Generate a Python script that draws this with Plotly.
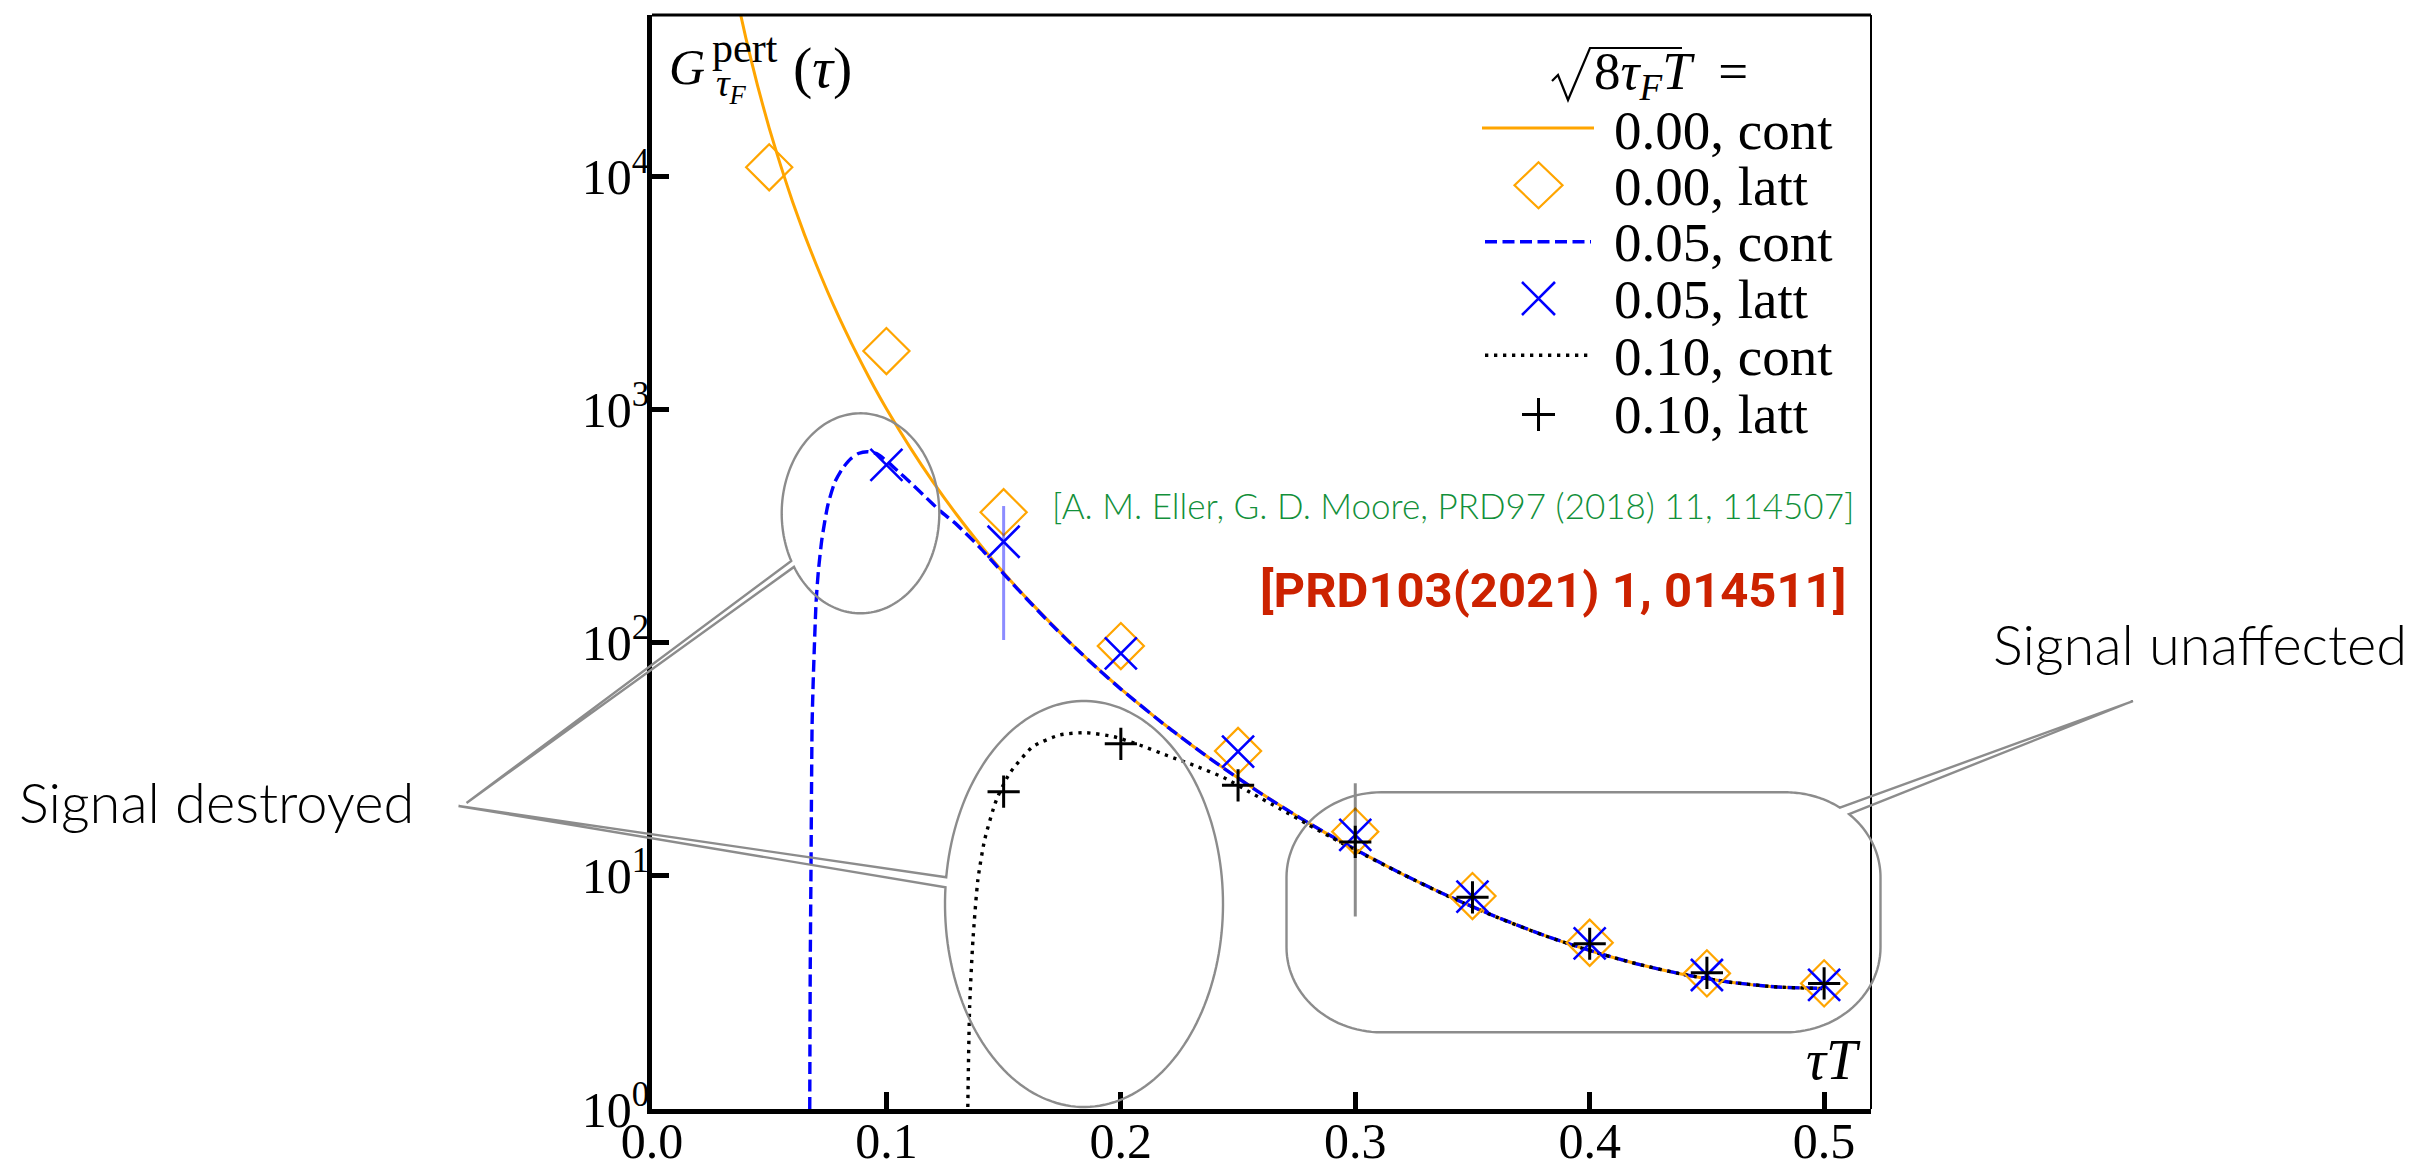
import math
import plotly.graph_objects as go

# ---------------- data ----------------
tau_latt_000 = [0.05, 0.10, 0.15, 0.20, 0.25, 0.30, 0.35, 0.40, 0.45, 0.50]
G_latt_000 = [11000, 1790, 364, 97.0, 34.4, 15.5, 8.20, 5.17, 3.82, 3.46]

tau_latt_005 = [0.10, 0.15, 0.20, 0.25, 0.30, 0.35, 0.40, 0.45, 0.50]
G_latt_005 = [581, 272, 90.3, 34.2, 15.0, 8.15, 5.14, 3.76, 3.41]
G_latt_005_errp = [0, 115, 0, 0, 0, 0, 0, 0, 0]
G_latt_005_errm = [0, 169, 0, 0, 0, 0, 0, 0, 0]

tau_latt_010 = [0.15, 0.20, 0.25, 0.30, 0.35, 0.40, 0.45, 0.50]
G_latt_010 = [23.0, 36.9, 24.5, 14.0, 8.10, 5.12, 3.84, 3.46]
G_latt_010_errp = [0, 0, 0, 11.0, 0, 0, 0, 0]
G_latt_010_errm = [0, 0, 0, 7.3, 0, 0, 0, 0]

tau_cont_000 = [0.036, 0.040, 0.045, 0.050, 0.055, 0.060, 0.065, 0.070, 0.075, 0.080,
                0.085, 0.090, 0.095, 0.100, 0.110, 0.120, 0.130, 0.140, 0.150, 0.160,
                0.170, 0.180, 0.190, 0.200, 0.220, 0.240, 0.260, 0.280, 0.300, 0.320,
                0.340, 0.360, 0.380, 0.400, 0.420, 0.440, 0.460, 0.480, 0.500]
G_cont_000 = [60000, 39600, 24700, 16200, 11100, 7810, 5670, 4220, 3200, 2470,
              1940, 1545, 1243, 1013, 693, 489, 355, 264, 200, 155,
              122, 96.8, 78.0, 63.6, 43.6, 30.9, 22.6, 16.9, 13.0, 10.2,
              8.17, 6.69, 5.59, 4.79, 4.20, 3.78, 3.50, 3.34, 3.29]

tau_cont_005 = [0.0672, 0.0675, 0.0678, 0.0683, 0.0688, 0.0700, 0.0710, 0.0725, 0.0750, 0.0780,
                0.0815, 0.0850, 0.0880, 0.0920, 0.0960, 0.1000, 0.1050, 0.1110, 0.1170, 0.1230,
                0.1300, 0.1400, 0.1500, 0.1600, 0.1700, 0.1800, 0.1900, 0.2000, 0.2200, 0.2400,
                0.2600, 0.2800, 0.3000, 0.3200, 0.3400, 0.3600, 0.3800, 0.4000, 0.4200, 0.4400,
                0.4600, 0.4800, 0.5000]
G_cont_005 = [0.5, 4.0, 10.0, 45.0, 70.0, 150, 205, 280, 390, 490,
              565, 620, 650, 662, 648, 605, 545, 480, 420, 368,
              322, 256, 198, 154, 121, 96.5, 77.8, 63.4, 43.5, 30.9,
              22.5, 16.9, 13.0, 10.2, 8.17, 6.69, 5.59, 4.79, 4.20, 3.78,
              3.50, 3.34, 3.29]

tau_cont_010 = [0.1344, 0.1348, 0.1355, 0.1369, 0.1390, 0.1419, 0.1469, 0.1526, 0.1625, 0.1740,
                0.1850, 0.1970, 0.2080, 0.2200, 0.2310, 0.2440, 0.2560, 0.2680, 0.2800, 0.2900,
                0.3000, 0.3200, 0.3400, 0.3600, 0.3800, 0.4000, 0.4200, 0.4400, 0.4600, 0.4800,
                0.5000]
G_cont_010 = [0.5, 1.17, 2.75, 5.3, 9.6, 14.3, 21.2, 27.6, 35.9, 40.3,
              41.2, 39.6, 36.5, 32.8, 29.9, 26.4, 22.6, 19.4, 16.6, 14.6,
              12.9, 10.2, 8.15, 6.68, 5.58, 4.78, 4.20, 3.78, 3.50, 3.34,
              3.29]

x_tickvals = [0.0, 0.1, 0.2, 0.3, 0.4, 0.5]
x_ticktext = ["0.0", "0.1", "0.2", "0.3", "0.4", "0.5"]
y_tickvals = [1, 10, 100, 1000, 10000]
y_ticktext = ["10<sup>0</sup>", "10<sup>1</sup>", "10<sup>2</sup>", "10<sup>3</sup>", "10<sup>4</sup>"]

legend_labels = ["0.00, cont", "0.00, latt", "0.05, cont", "0.05, latt", "0.10, cont", "0.10, latt"]

# ---------------- layout geometry ----------------
W, H = 2413, 1160
ML, MR, MT, MB = 652, 542, 15, 51
PW, PH = W - ML - MR, H - MT - MB

SERIF = "Liberation Serif"
LIGHT = "Lato"
BOLD = "Roboto"
ORANGE = "#FFA500"
BLUE = "#0000FF"
GRAY = "#8c8c8c"


def px(x):
    return (x - ML) / PW


def py(y):
    return (H - MB - y) / PH


def path_from_pts(pts, close=False):
    s = "M" + " L".join(f"{px(x):.5f},{py(y):.5f}" for x, y in pts)
    return s + (" Z" if close else "")


def ellipse_callout(cx, cy, rx, ry, e1, e2, tip, n=180):
    a1 = math.atan2((e1[1] - cy) / ry, (e1[0] - cx) / rx)
    a2 = math.atan2((e2[1] - cy) / ry, (e2[0] - cx) / rx)
    d = (a1 - a2 + math.pi) % (2 * math.pi) - math.pi
    end = a1 - 2 * math.pi if d > 0 else a1 + 2 * math.pi
    pts = [(cx + rx * math.cos(a1), cy + ry * math.sin(a1)), tip]
    for i in range(n + 1):
        a = a2 + (end - a2) * i / n
        pts.append((cx + rx * math.cos(a), cy + ry * math.sin(a)))
    return pts


def rrect_callout(l, t, r, b, rx, ry, e1, e2, tip, n=30):
    tr = (r - rx, t + ry)
    br = (r - rx, b - ry)
    bl = (l + rx, b - ry)
    tl = (l + rx, t + ry)

    def arc(c, d0, d1):
        out = []
        for i in range(n + 1):
            a = math.radians(d0 + (d1 - d0) * i / n)
            out.append((c[0] + rx * math.cos(a), c[1] + ry * math.sin(a)))
        return out

    a1 = math.degrees(math.atan2((e1[1] - tr[1]) / ry, (e1[0] - tr[0]) / rx))
    a2 = math.degrees(math.atan2((e2[1] - tr[1]) / ry, (e2[0] - tr[0]) / rx))
    p1 = (tr[0] + rx * math.cos(math.radians(a1)), tr[1] + ry * math.sin(math.radians(a1)))
    pts = [p1, tip]
    pts += arc(tr, a2, 0)
    pts += arc(br, 0, 90)
    pts += arc(bl, 90, 180)
    pts += arc(tl, 180, 270)
    pts += arc(tr, 270, a1 + 360)
    return pts


fig = go.Figure()

# continuum curves
fig.add_trace(go.Scatter(x=tau_cont_000, y=G_cont_000, mode="lines",
                         line=dict(color=ORANGE, width=3, shape="spline", smoothing=0.6),
                         showlegend=False, hoverinfo="skip"))
fig.add_trace(go.Scatter(x=tau_cont_005, y=G_cont_005, mode="lines",
                         line=dict(color=BLUE, width=3.4, dash="12px,5.5px", shape="spline", smoothing=0.6),
                         showlegend=False, hoverinfo="skip"))
fig.add_trace(go.Scatter(x=tau_cont_010, y=G_cont_010, mode="lines",
                         line=dict(color="black", width=3.4, dash="3.3px,5.7px", shape="spline", smoothing=0.6),
                         showlegend=False, hoverinfo="skip"))

# lattice points
fig.add_trace(go.Scatter(x=tau_latt_000, y=G_latt_000, mode="markers",
                         marker=dict(symbol="diamond-open", size=35.5, color=ORANGE,
                                     line=dict(color=ORANGE, width=2.2)),
                         showlegend=False))
fig.add_trace(go.Scatter(x=tau_latt_005, y=G_latt_005, mode="markers",
                         marker=dict(symbol="x-thin-open", size=32, color=BLUE,
                                     line=dict(color=BLUE, width=2.6)),
                         error_y=dict(type="data", array=G_latt_005_errp, arrayminus=G_latt_005_errm,
                                      symmetric=False, color="rgba(0,0,255,0.45)", thickness=3, width=0),
                         showlegend=False))
fig.add_trace(go.Scatter(x=tau_latt_010, y=G_latt_010, mode="markers",
                         marker=dict(symbol="cross-thin-open", size=23, color="black",
                                     line=dict(color="black", width=3)),
                         error_y=dict(type="data", array=G_latt_010_errp, arrayminus=G_latt_010_errm,
                                      symmetric=False, color="rgba(0,0,0,0.45)", thickness=3, width=0),
                         showlegend=False))

shapes = []
# top / right frame
shapes.append(dict(type="line", xref="paper", yref="paper", x0=0, x1=1, y0=1, y1=1,
                   line=dict(color="black", width=3)))
shapes.append(dict(type="line", xref="paper", yref="paper", x0=1, x1=1, y0=0, y1=1,
                   line=dict(color="black", width=2)))

# callouts
up_pts = ellipse_callout(860.5, 513.3, 78.8, 100.0, (792.6, 560.0), (794.5, 566.5), (466.5, 803.0))
lo_pts = ellipse_callout(1084.0, 904.0, 139.0, 203.0, (946.4, 877.3), (946.4, 887.3), (458.5, 806.0))
rr_pts = rrect_callout(1286.5, 792.3, 1880.5, 1032.3, 95, 85, (1838.9, 809.0), (1847.7, 815.5), (2133.0, 701.0))
for pts in (up_pts, lo_pts, rr_pts):
    shapes.append(dict(type="path", xref="paper", yref="paper", path=path_from_pts(pts, close=True),
                       line=dict(color=GRAY, width=2.4), fillcolor="rgba(0,0,0,0)"))

# custom legend samples
leg_rows_y = [130.6, 186.6, 242.6, 299.0, 356.0, 414.5]
sym_cx = 1538.5
shapes.append(dict(type="line", xref="paper", yref="paper", x0=px(1482), x1=px(1594),
                   y0=py(128), y1=py(128), line=dict(color=ORANGE, width=3)))
d_hw, d_hh, dcy = 24, 23, 185.3
shapes.append(dict(type="path", xref="paper", yref="paper",
                   path=path_from_pts([(sym_cx - d_hw, dcy), (sym_cx, dcy - d_hh), (sym_cx + d_hw, dcy),
                                       (sym_cx, dcy + d_hh)], close=True),
                   line=dict(color=ORANGE, width=2.2)))
shapes.append(dict(type="line", xref="paper", yref="paper", x0=px(1485), x1=px(1591),
                   y0=py(241.7), y1=py(241.7), line=dict(color=BLUE, width=3.4, dash="12px,5.5px")))
xcy, xh = 298.5, 16.5
shapes.append(dict(type="path", xref="paper", yref="paper",
                   path=path_from_pts([(sym_cx - xh, xcy - xh), (sym_cx + xh, xcy + xh)]) + " " +
                   path_from_pts([(sym_cx - xh, xcy + xh), (sym_cx + xh, xcy - xh)]),
                   line=dict(color=BLUE, width=2.6)))
shapes.append(dict(type="line", xref="paper", yref="paper", x0=px(1485), x1=px(1591),
                   y0=py(355.3), y1=py(355.3), line=dict(color="black", width=3.4, dash="3.3px,5.7px")))
pcy, ph = 414.6, 16.5
shapes.append(dict(type="path", xref="paper", yref="paper",
                   path=path_from_pts([(sym_cx - ph, pcy), (sym_cx + ph, pcy)]) + " " +
                   path_from_pts([(sym_cx, pcy - ph), (sym_cx, pcy + ph)]),
                   line=dict(color="black", width=3)))
# radical sign of the legend title
shapes.append(dict(type="path", xref="paper", yref="paper",
                   path=path_from_pts([(1552, 81), (1558, 75), (1568, 100), (1590, 48), (1682, 48)]),
                   line=dict(color="black", width=2.2)))


def ann(text, x, y, size, color="black", family=SERIF, xanchor="center", yanchor="middle", weight=None):
    f = dict(family=family, size=size, color=color)
    if weight is not None:
        f["weight"] = weight
    return dict(text=text, x=px(x), y=py(y), xref="paper", yref="paper", showarrow=False,
                xanchor=xanchor, yanchor=yanchor, font=f, borderpad=0)


annotations = []
# y label inside the plot
annotations.append(ann("<i>G</i>", 687, 67, 50))
annotations.append(ann("pert", 745, 48, 42))
annotations.append(ann("<i>τ</i><sub><i>F</i></sub>", 731, 86, 38))
annotations.append(ann("(<i>τ</i>)", 822, 68, 58))
# x label
annotations.append(ann("<i>τT</i>", 1862, 1060, 56, xanchor="right"))
# legend title and entries
annotations.append(ann("8<i>τ</i><sub><i>F</i></sub><i>T</i>\u2002=", 1593, 75, 53, xanchor="left"))
for lab, yy in zip(legend_labels, leg_rows_y):
    annotations.append(ann(lab, 1613, yy, 55, xanchor="left"))
# references
annotations.append(ann("[A. M. Eller, G. D. Moore, PRD97 (2018) 11, 114507]", 1855, 505, 35,
                       color="#12903A", family=LIGHT, xanchor="right", weight=300))
annotations.append(ann("[PRD103(2021) 1, 014511]", 1847, 590.5, 49,
                       color="#CC2200", family=BOLD, xanchor="right", weight=700))
# side notes
annotations.append(ann("Signal destroyed", 18, 801.5, 56, family=LIGHT, xanchor="left", weight=300))
annotations.append(ann("Signal unaffected", 1992, 643.5, 56, family=LIGHT, xanchor="left", weight=300))

fig.update_layout(
    width=W, height=H,
    margin=dict(l=ML, r=MR, t=MT, b=MB, pad=0, autoexpand=False),
    paper_bgcolor="white", plot_bgcolor="white",
    showlegend=False,
    shapes=shapes,
    annotations=annotations,
    xaxis=dict(range=[0, 0.52], tickvals=x_tickvals, ticktext=x_ticktext,
               ticks="inside", ticklen=17, tickwidth=4.5, tickcolor="black",
               showline=True, linewidth=4.5, linecolor="black",
               showgrid=False, zeroline=False, automargin=False, ticklabelstandoff=-16,
               tickfont=dict(family=SERIF, size=50, color="black")),
    yaxis=dict(type="log", range=[0, 4.695], tickvals=y_tickvals, ticktext=y_ticktext,
               ticks="inside", ticklen=17, tickwidth=4.5, tickcolor="black",
               showline=True, linewidth=4.5, linecolor="black",
               showgrid=False, zeroline=False, automargin=False, ticklabelstandoff=-12,
               tickfont=dict(family=SERIF, size=50, color="black")),
)

fig.write_html("out.html")
